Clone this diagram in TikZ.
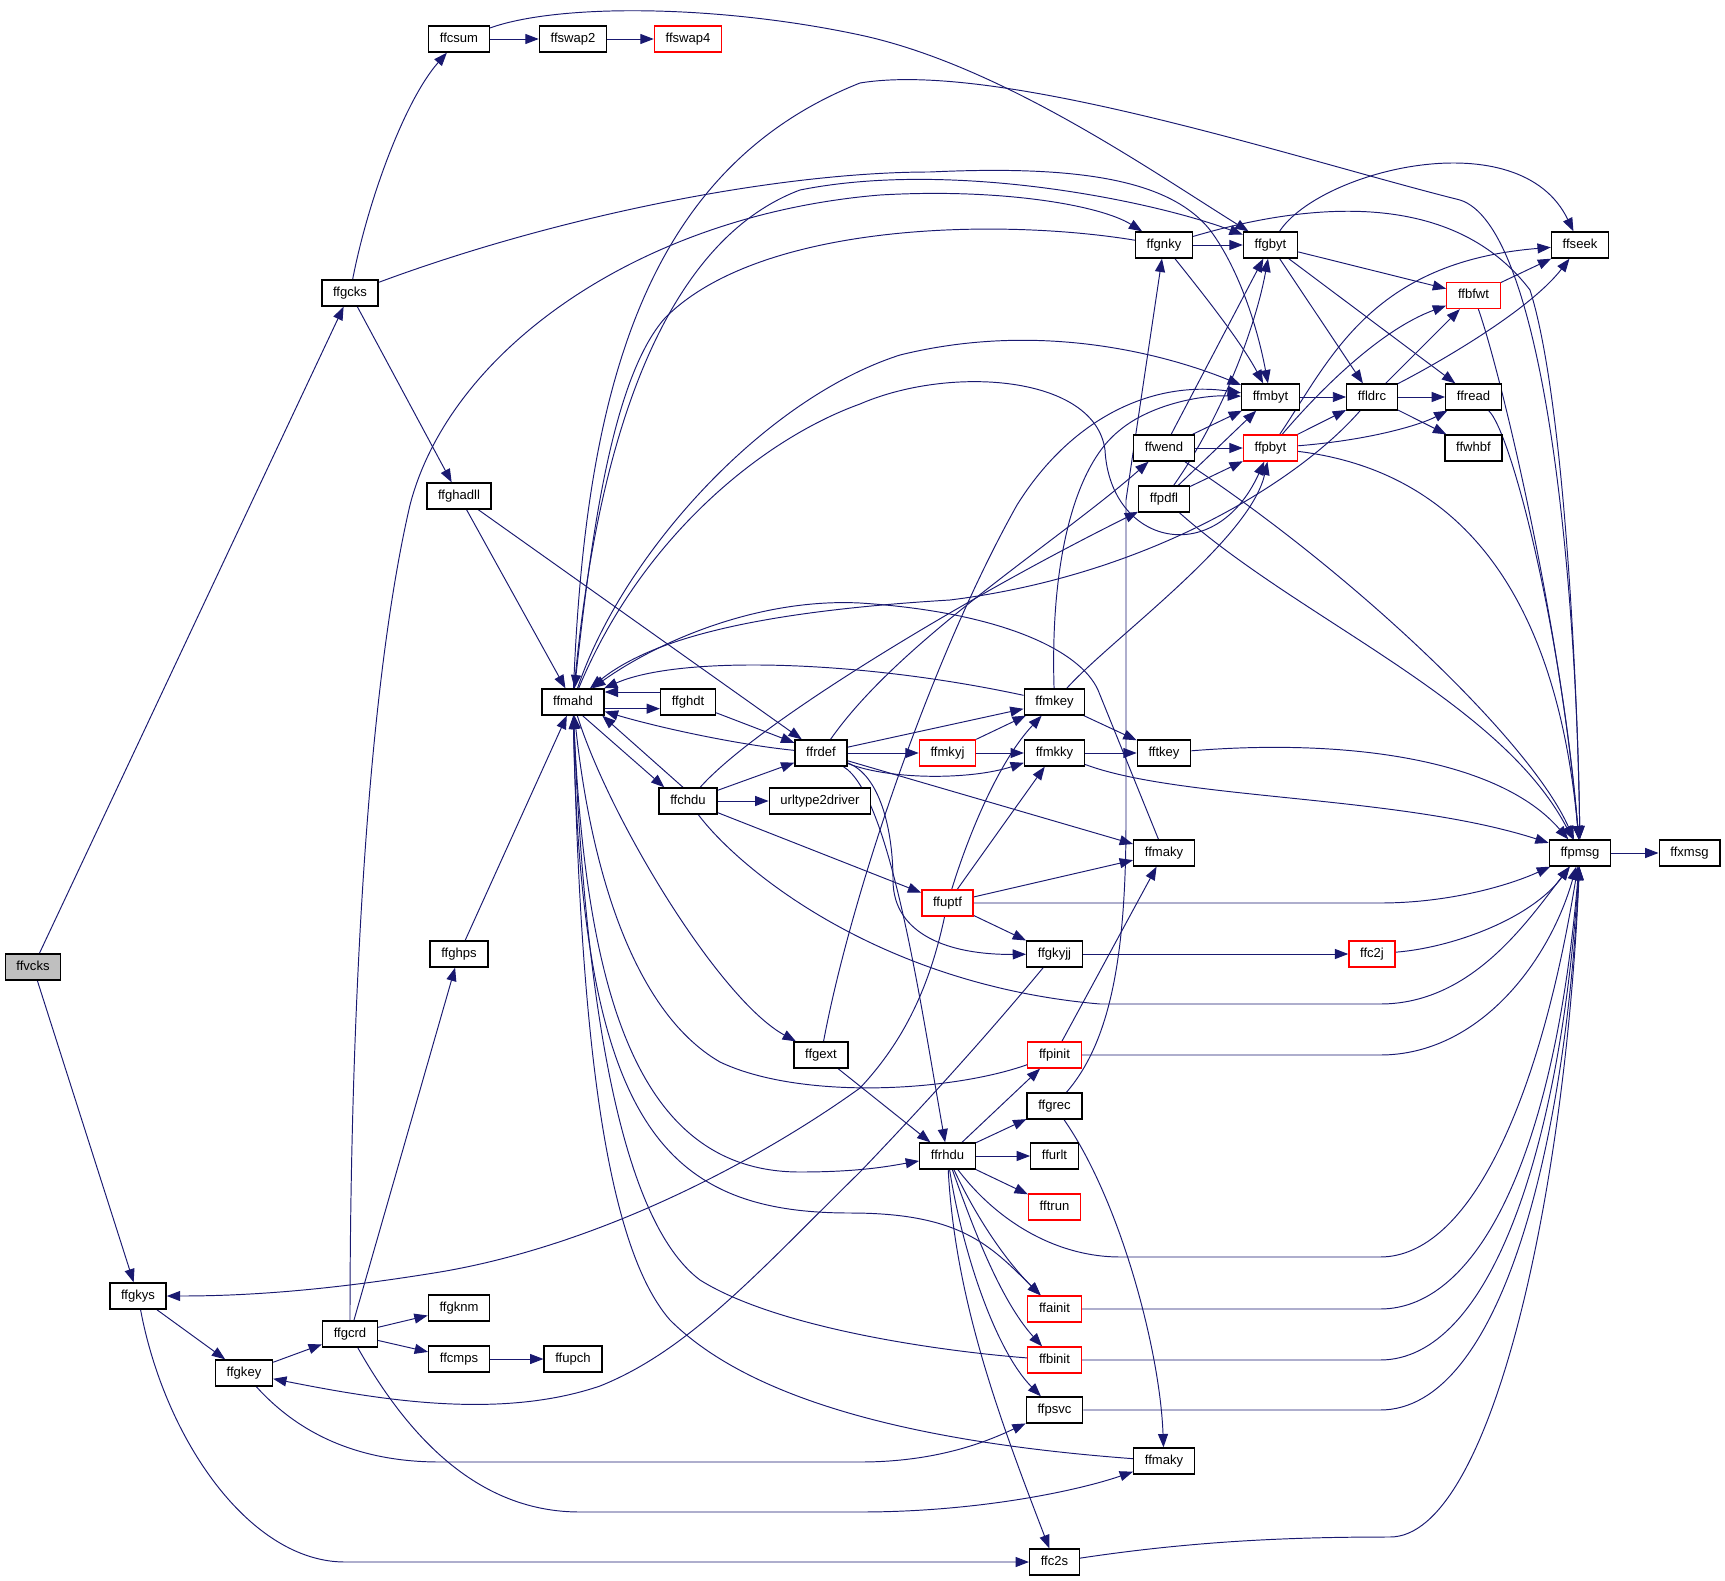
\documentclass[tikz,border=0pt]{standalone}
\usepackage{fontspec}
\setsansfont{Liberation Sans}
\usetikzlibrary{arrows.meta,backgrounds}
\definecolor{callblue}{HTML}{191970}
\tikzset{every picture/.style={/utils/exec={\sffamily}}}
\tikzset{
  fn/.style={draw=black, fill=white, line width=1pt, rectangle, inner xsep=8.4pt, inner ysep=0pt,
    minimum height=19.5pt, text height=7.2pt, text depth=2.1pt, font=\fontsize{9.8}{11}\selectfont},
  fnred/.style={fn, draw=red},
  fnroot/.style={fn, fill=black!25},
  call/.style={draw=callblue, line width=0.72pt, -{Triangle[length=10pt,width=7.5pt]}},
}
\begin{document}
\begin{tikzpicture}[x=0.75pt,y=-0.75pt]
		\useasboundingbox (0,0) rectangle (1725,1581);

		\node[fnroot] (ffvcks) at (33,967) {ffvcks};
		\node[fn] (ffgkys) at (138,1296) {ffgkys};
		\node[fn] (ffgkey) at (244,1373) {ffgkey};
		\node[fn] (ffgcks) at (350,293) {ffgcks};
		\node[fn] (ffgcrd) at (350,1334) {ffgcrd};
		\node[fn] (ffcsum) at (459,39) {ffcsum};
		\node[fn] (ffghadll) at (459,496) {ffghadll};
		\node[fn] (ffghps) at (459,954) {ffghps};
		\node[fn] (ffgknm) at (459,1308) {ffgknm};
		\node[fn] (ffcmps) at (459,1359) {ffcmps};
		\node[fn] (ffswap2) at (573,39) {ffswap2};
		\node[fn] (ffmahd) at (573,702) {ffmahd};
		\node[fn] (ffupch) at (573,1359) {ffupch};
		\node[fnred] (ffswap4) at (688,39) {ffswap4};
		\node[fn] (ffghdt) at (688,702) {ffghdt};
		\node[fn] (ffchdu) at (688,801) {ffchdu};
		\node[fn] (ffrdef) at (821,753) {ffrdef};
		\node[fn] (urltype2driver) at (820,801) {urltype2driver};
		\node[fn] (ffgext) at (821,1055) {ffgext};
		\node[fnred] (ffmkyj) at (947.5,753) {ffmkyj};
		\node[fnred] (ffuptf) at (947.5,903) {ffuptf};
		\node[fn] (ffrhdu) at (947.5,1156) {ffrhdu};
		\node[fn] (ffmkey) at (1054.5,702) {ffmkey};
		\node[fn] (ffmkky) at (1054.5,753) {ffmkky};
		\node[fn] (ffgkyjj) at (1054.5,954) {ffgkyjj};
		\node[fnred] (ffpinit) at (1054.5,1055) {ffpinit};
		\node[fn] (ffgrec) at (1054.5,1106) {ffgrec};
		\node[fn] (ffurlt) at (1054.5,1156) {ffurlt};
		\node[fnred] (fftrun) at (1054.5,1207) {fftrun};
		\node[fnred] (ffainit) at (1054.5,1309) {ffainit};
		\node[fnred] (ffbinit) at (1054.5,1360) {ffbinit};
		\node[fn] (ffpsvc) at (1054.5,1410) {ffpsvc};
		\node[fn] (ffc2s) at (1054.5,1562) {ffc2s};
		\node[fn] (ffgnky) at (1164,245) {ffgnky};
		\node[fn] (ffwend) at (1164,448) {ffwend};
		\node[fn] (ffpdfl) at (1164,499) {ffpdfl};
		\node[fn] (fftkey) at (1164,753) {fftkey};
		\node[fn] (ffmakyA) at (1164,853) {ffmaky};
		\node[fn] (ffmakyB) at (1164,1461) {ffmaky};
		\node[fn] (ffgbyt) at (1270.5,245) {ffgbyt};
		\node[fn] (ffmbyt) at (1270.5,397) {ffmbyt};
		\node[fnred] (ffpbyt) at (1270.5,448) {ffpbyt};
		\node[fn] (ffldrc) at (1372,397) {ffldrc};
		\node[fnred] (ffc2j) at (1372,954) {ffc2j};
		\node[fnred] (ffbfwt) at (1473.5,295.5) {ffbfwt};
		\node[fn] (ffread) at (1473.5,397) {ffread};
		\node[fn] (ffwhbf) at (1473.5,448) {ffwhbf};
		\node[fn] (ffseek) at (1580,245) {ffseek};
		\node[fn] (ffpmsg) at (1580,853) {ffpmsg};
		\node[fn] (ffxmsg) at (1689.5,853) {ffxmsg};

		\begin{pgfonlayer}{background}
		\draw[call] (ffvcks) -- (ffgcks);
		\draw[call] (ffvcks) -- (ffgkys);

		\draw[call] (ffgcks) .. controls (368,200) and (405,100) .. (ffcsum);
		\draw[call] (ffgcks) -- (ffghadll);
		\draw[call] (ffgcks) .. controls (560,215) and (780,172) .. (930,172) .. controls (1080,165) and (1170,180) .. (1210,230) .. controls (1240,270) and (1258,330) .. (ffmbyt);
		\draw[call] (ffcsum) -- (ffswap2);
		\draw[call] (ffswap2) -- (ffswap4);
		\draw[call] (ffcsum) .. controls (560,3) and (720,5) .. (860,35) .. controls (1000,65) and (1150,170) .. (ffgbyt);
		\draw[call] (ffghadll) -- (ffmahd);
		\draw[call] (ffghadll) -- (ffrdef);
		\draw[call] (ffghps) -- (ffmahd);

		\draw[call] (ffgkys) -- (ffgkey);
		\draw[call] (ffgkys) .. controls (165,1440) and (250,1562) .. (345,1562) -- (ffc2s);
		\draw[call] (ffgkey) -- (ffgcrd);
		\draw[call] (ffgkey) .. controls (300,1435) and (360,1462) .. (440,1462) -- (860,1462) .. controls (940,1462) and (990,1440) .. (ffpsvc);
		\draw[call] (ffgcrd) -- (ffgknm);
		\draw[call] (ffgcrd) -- (ffcmps);
		\draw[call] (ffcmps) -- (ffupch);
		\draw[call] (ffgcrd) -- (ffghps);
		\draw[call] (ffgcrd) .. controls (350,1100) and (360,720) .. (410,505) .. controls (450,350) and (640,215) .. (880,195) .. controls (1000,188) and (1100,205) .. (ffgnky);
		\draw[call] (ffgcrd) .. controls (410,1440) and (480,1512) .. (580,1512) -- (860,1512) .. controls (980,1512) and (1080,1490) .. (ffmakyB);

		\draw[call] (ffgnky) -- (ffgbyt);
		\draw[call] (ffgnky) .. controls (1200,290) and (1240,340) .. (ffmbyt);
		\draw[call] (ffgnky) .. controls (1000,218) and (760,222) .. (665,318) .. controls (610,380) and (590,550) .. (ffmahd);
		\draw[call] (ffgnky) .. controls (1300,205) and (1450,185) .. (1530,290) .. controls (1565,400) and (1578,700) .. (ffpmsg);
		\draw[call] (ffgbyt) .. controls (1320,170) and (1520,120) .. (ffseek);
		\draw[call] (ffgbyt) -- (ffbfwt);
		\draw[call] (ffgbyt) -- (ffldrc);
		\draw[call] (ffgbyt) -- (ffread);
		\draw[call] (ffmahd) .. controls (600,400) and (680,235) .. (800,190) .. controls (950,160) and (1150,200) .. (ffgbyt);
		\draw[call] (ffmahd) .. controls (585,400) and (640,170) .. (860,83) .. controls (1000,60) and (1300,160) .. (1460,200) .. controls (1540,225) and (1576,550) .. (ffpmsg);

		\draw[call] (ffmbyt) -- (ffldrc);
		\draw[call] (ffldrc) -- (ffread);
		\draw[call] (ffldrc) -- (ffwhbf);
		\draw[call] (ffldrc) -- (ffbfwt);
		\draw[call] (ffldrc) .. controls (1440,362) and (1530,310) .. (ffseek);
		\draw[call] (ffldrc) .. controls (1300,480) and (1150,575) .. (950,600) .. controls (750,612) and (650,640) .. (ffmahd);
		\draw[call] (ffbfwt) -- (ffseek);
		\draw[call] (ffbfwt) .. controls (1500,370) and (1560,620) .. (ffpmsg);
		\draw[call] (ffread) .. controls (1510,430) and (1560,620) .. (ffpmsg);
		\draw[call] (ffpbyt) -- (ffldrc);
		\draw[call] (ffpbyt) .. controls (1370,440) and (1420,425) .. (ffread);
		\draw[call] (ffpbyt) .. controls (1320,390) and (1380,330) .. (ffbfwt);
		\draw[call] (ffpbyt) .. controls (1330,360) and (1370,262) .. (ffseek);
		\draw[call] (ffpbyt) .. controls (1450,470) and (1555,580) .. (ffpmsg);

		\draw[call] (ffwend) -- (ffmbyt);
		\draw[call] (ffwend) -- (ffpbyt);
		\draw[call] (ffwend) -- (ffgbyt);
		\draw[call] (ffwend) .. controls (1350,570) and (1530,740) .. (ffpmsg);
		\draw[call] (ffpdfl) -- (ffmbyt);
		\draw[call] (ffpdfl) .. controls (1220,420) and (1255,330) .. (ffgbyt);
		\draw[call] (ffpdfl) -- (ffpbyt);
		\draw[call] (ffpdfl) .. controls (1300,620) and (1500,700) .. (ffpmsg);
		\draw[call] (ffmahd) .. controls (620,560) and (760,400) .. (900,355) .. controls (1050,318) and (1180,360) .. (ffmbyt);
		\draw[call] (ffmahd) .. controls (640,540) and (760,440) .. (860,404) .. controls (950,365) and (1095,375) .. (1105,450) .. controls (1110,545) and (1215,570) .. (ffpbyt);

		\draw[call] (ffmkey) -- (fftkey);
		\draw[call] (ffmkey) .. controls (860,660) and (680,655) .. (ffmahd);
		\draw[call] (ffmkey) .. controls (1050,560) and (1075,465) .. (1120,430) .. controls (1150,405) and (1200,395) .. (ffmbyt);
		\draw[call] (ffmkey) .. controls (1110,640) and (1250,540) .. (ffpbyt);
		\draw[call] (ffmkyj) -- (ffmkey);
		\draw[call] (ffmkyj) -- (ffmkky);
		\draw[call] (ffmkky) -- (fftkey);
		\draw[call] (ffmkky) .. controls (1180,800) and (1400,795) .. (ffpmsg);
		\draw[call] (fftkey) .. controls (1350,738) and (1500,760) .. (ffpmsg);
		\draw[call] (ffmakyA) -- (1098,690) .. controls (1080,650) and (1000,612) .. (860,603) .. controls (760,598) and (660,640) .. (ffmahd);
		\draw[call] (ffgext) .. controls (850,900) and (930,660) .. (1017,505) .. controls (1070,420) and (1150,380) .. (ffmbyt);

		\draw[call] ([yshift=-5pt]ffmahd.east) -- ([yshift=-5pt]ffghdt.west);
		\draw[call] ([yshift=7.5pt]ffghdt.west) -- ([yshift=7.5pt]ffmahd.east);
		\draw[call] (ffghdt) -- (ffrdef);
		\draw[call] (ffmahd.-55) -- (ffchdu.150);
		\draw[call] (ffchdu.110) -- (ffmahd.-25);
		\draw[call] (ffrdef) .. controls (740,745) and (660,728) .. (ffmahd);
		\draw[call] (ffrdef) -- (ffmkyj);
		\draw[call] (ffrdef) -- (ffmkey);
		\draw[call] (ffrdef) .. controls (890,780) and (970,780) .. (ffmkky);
		\draw[call] (ffrdef) -- (ffmakyA);
		\draw[call] (ffrdef) .. controls (890,795) and (920,1000) .. (ffrhdu);
		\draw[call] (ffrdef) .. controls (880,775) and (893,830) .. (893,880) .. controls (893,935) and (950,955) .. (ffgkyjj);
		\draw[call] (ffrdef) .. controls (900,640) and (1060,540) .. (ffwend);
		\draw[call] (ffchdu) -- (ffrdef);
		\draw[call] (ffchdu) -- (urltype2driver);
		\draw[call] (ffchdu) .. controls (760,720) and (980,590) .. (ffpdfl);
		\draw[call] (ffchdu) -- (ffuptf);
		\draw[call] (ffchdu) .. controls (740,870) and (880,985) .. (1100,1004) -- (1380,1004) .. controls (1470,1004) and (1525,925) .. (ffpmsg);

		\draw[call] (ffuptf) .. controls (970,830) and (1000,760) .. (ffmkey);
		\draw[call] (ffuptf) -- (ffmkky);
		\draw[call] (ffuptf) -- (ffmakyA);
		\draw[call] (ffuptf) -- (ffgkyjj);
		\draw[call] (ffuptf) -- (1380,903) .. controls (1450,903) and (1510,885) .. (ffpmsg);
		\draw[call] (ffuptf) .. controls (930,985) and (905,1040) .. (860,1088) .. controls (760,1160) and (600,1245) .. (440,1272) .. controls (330,1290) and (250,1296) .. (ffgkys);
		\draw[call] (ffgkyjj) -- (ffc2j);
		\draw[call] (ffc2j) .. controls (1450,948) and (1530,920) .. (ffpmsg);
		\draw[call] (ffgkyjj) .. controls (975,1050) and (905,1125) .. (860,1172) .. controls (760,1270) and (690,1350) .. (600,1386) .. controls (500,1420) and (380,1400) .. (ffgkey);

		\draw[call] (ffmahd) .. controls (610,820) and (720,1000) .. (ffgext);
		\draw[call] (ffmahd) .. controls (585,1000) and (640,1172) .. (800,1172) .. controls (860,1172) and (890,1166) .. (ffrhdu);
		\draw[call] (ffmahd) .. controls (580,1120) and (660,1213) .. (850,1213) .. controls (960,1213) and (990,1245) .. (ffainit);
		\draw[call] (ffpinit) .. controls (950,1092) and (800,1100) .. (720,1062) .. controls (630,1010) and (590,860) .. (ffmahd);
		\draw[call] (ffbinit) .. controls (950,1352) and (780,1330) .. (700,1280) .. controls (620,1220) and (585,1000) .. (ffmahd);
		\draw[call] (ffmakyB) .. controls (950,1445) and (760,1410) .. (670,1320) .. controls (600,1240) and (580,1000) .. (ffmahd);

		\draw[call] (ffgext) -- (ffrhdu);
		\draw[call] (ffrhdu) -- (ffpinit);
		\draw[call] (ffrhdu) -- (ffgrec);
		\draw[call] (ffrhdu) -- (ffurlt);
		\draw[call] (ffrhdu) -- (fftrun);
		\draw[call] (ffrhdu) .. controls (980,1225) and (1010,1265) .. (ffainit);
		\draw[call] (ffrhdu) .. controls (972,1225) and (1000,1300) .. (ffbinit);
		\draw[call] (ffrhdu) .. controls (962,1250) and (995,1350) .. (ffpsvc);
		\draw[call] (ffrhdu) .. controls (955,1300) and (1000,1420) .. (ffc2s);
		\draw[call] (ffrhdu) .. controls (1000,1225) and (1060,1257) .. (1120,1257) -- (1380,1257) .. controls (1470,1257) and (1540,1100) .. (ffpmsg);
		\draw[call] (ffpinit) -- (ffmakyA);
		\draw[call] (ffpinit) -- (1380,1055) .. controls (1480,1055) and (1550,960) .. (ffpmsg);
		\draw[call] (ffgrec) .. controls (1112,1040) and (1126,950) .. (1126,820) -- (1126,500) -- (ffgnky);
		\draw[call] (ffgrec) .. controls (1120,1200) and (1160,1350) .. (ffmakyB);
		\draw[call] (ffainit) -- (1380,1309) .. controls (1480,1309) and (1555,1150) .. (ffpmsg);
		\draw[call] (ffbinit) -- (1380,1360) .. controls (1490,1360) and (1560,1150) .. (ffpmsg);
		\draw[call] (ffpsvc) -- (1380,1410) .. controls (1500,1410) and (1565,1150) .. (ffpmsg);
		\draw[call] (ffc2s) .. controls (1200,1540) and (1300,1537) .. (1390,1537) .. controls (1490,1537) and (1565,1200) .. (ffpmsg);
		\draw[call] (ffpmsg) -- (ffxmsg);
		\end{pgfonlayer}
	\end{tikzpicture}
\end{document}
